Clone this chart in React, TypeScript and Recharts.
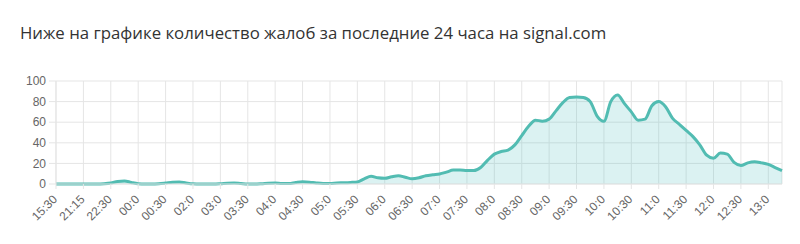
import React from "react";
import { AreaChart, Area, XAxis, YAxis, CartesianGrid } from "recharts";

const titleText = "Ниже на графике количество жалоб за последние 24 часа на signal.com";

const tickLabels = [
  "15:30", "21:15", "22:30", "00:0", "00:30", "02:0", "03:0", "03:30", "04:0",
  "04:30", "05:0", "05:30", "06:0", "06:30", "07:0", "07:30", "08:0", "08:30",
  "09:0", "09:30", "10:0", "10:30", "11:0", "11:30", "12:0", "12:30", "13:0",
];

const yTicks = [0, 20, 40, 60, 80, 100];

// complaint counts sampled at quarter-label steps
const complaints = [
  0, 0, 0, 0,
  0, 0, 0, 0.3,
  1, 2.5, 3, 1.5,
  0.3, 0, 0, 0.3,
  1, 1.8, 2, 1,
  0.2, 0, 0, 0,
  0.3, 0.8, 1, 0.5,
  0, 0, 0.3, 0.8,
  1, 0.5, 0.5, 1.5,
  2.2, 1.8, 1, 0.5,
  0.5, 1, 1.2, 1.5,
  2, 5, 7.5, 6,
  5.5, 7, 8, 6.5,
  5, 6, 8, 9,
  9.7, 11.5, 13.5, 13.5,
  13, 13, 16, 23,
  29, 31.5, 33, 38,
  47, 56, 62, 61,
  63, 71, 79, 84,
  84.5, 84, 80, 66,
  61, 80, 86.5, 78,
  70, 62, 63, 76,
  80, 75, 64, 58,
  52, 46, 38, 28,
  25, 30, 29, 21,
  18, 20.5, 21.5, 20.5,
  19, 16, 13,
];

const STEP = 0.25;
const data = complaints.map((v, i) => ({ x: i * STEP, v }));
const xMax = (complaints.length - 1) * STEP;
const xTicks = tickLabels.map((_, i) => i);

const XTick = (props: any) => {
  const { x, y, payload } = props;
  const ax = x + 2;
  const ay = y + 9;
  return (
    <text
      x={ax}
      y={ay}
      transform={`rotate(-45, ${ax}, ${ay})`}
      textAnchor="end"
      fill="#666"
      fontSize={12}
      fontFamily="'Liberation Sans', Arial, sans-serif"
    >
      {tickLabels[payload.value]}
    </text>
  );
};

export default function App() {
  return (
    <div style={{ position: "absolute", left: 0, top: 0, width: 800, height: 244, background: "#fff" }}>
      <div
        style={{
          position: "absolute",
          left: 20,
          top: 21,
          fontFamily: "'Open Sans', sans-serif",
          fontSize: 16.8,
          lineHeight: "23px",
          color: "#333",
          whiteSpace: "nowrap",
        }}
      >
        {titleText}
      </div>
      <div style={{ position: "absolute", left: 0, top: 0 }}>
        <AreaChart
          width={800}
          height={244}
          data={data}
          margin={{ top: 81, right: 18, bottom: 0, left: 0 }}
        >
          <CartesianGrid stroke="#e5e5e5" strokeWidth={1} />
          <XAxis
            type="number"
            dataKey="x"
            domain={[0, xMax]}
            ticks={xTicks}
            interval={0}
            height={60}
            tickSize={5}
            axisLine={{ stroke: "#e5e5e5" }}
            tickLine={{ stroke: "#e5e5e5" }}
            tick={<XTick />}
          />
          <YAxis
            type="number"
            domain={[0, 100]}
            ticks={yTicks}
            interval={0}
            width={56}
            tickSize={7}
            tickMargin={3}
            axisLine={{ stroke: "#e5e5e5" }}
            tickLine={{ stroke: "#e5e5e5" }}
            tick={{ fill: "#666", fontSize: 12, fontFamily: "'Liberation Sans', Arial, sans-serif" }}
          />
          <Area
            type="monotone"
            dataKey="v"
            stroke="#52bcb2"
            strokeWidth={3}
            fill="rgba(75,192,192,0.2)"
            fillOpacity={1}
            dot={false}
            activeDot={false}
            isAnimationActive={false}
          />
        </AreaChart>
      </div>
    </div>
  );
}
